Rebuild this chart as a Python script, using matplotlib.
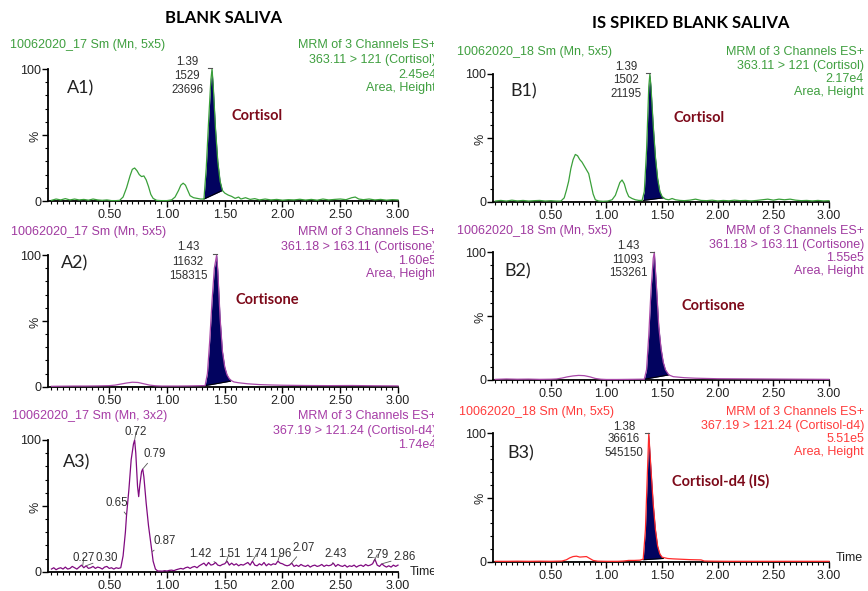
import numpy as np
import matplotlib
matplotlib.use("Agg")
import matplotlib.pyplot as plt
from matplotlib.ticker import MultipleLocator
from matplotlib.transforms import Bbox, TransformedBbox

# ------------------------------------------------------------------ data
XMAJ = [0.5, 1.0, 1.5, 2.0, 2.5, 3.0]
XLAB = ["0.50", "1.00", "1.50", "2.00", "2.50", "3.00"]
YMAJ = [0, 50, 100]
YLAB = ["0", "%", "100"]

# A1 : blank saliva, cortisol channel
A1_t = [0.00, 0.04, 0.08, 0.12, 0.16, 0.20, 0.24, 0.28, 0.32, 0.36, 0.40, 0.44, 0.48, 0.52, 0.56,
        0.59, 0.62, 0.65, 0.68, 0.70, 0.72, 0.74, 0.76, 0.78, 0.80, 0.82, 0.84, 0.86, 0.88, 0.91,
        0.95, 1.00, 1.04, 1.07, 1.10, 1.12, 1.14, 1.16, 1.18, 1.20, 1.23, 1.26, 1.29, 1.32, 1.34,
        1.36, 1.38, 1.39, 1.40, 1.42, 1.44, 1.46, 1.48, 1.50, 1.53, 1.56, 1.59, 1.62, 1.64, 1.68,
        1.72, 1.76, 1.80, 1.85, 1.90, 1.95, 2.00, 2.05, 2.10, 2.15, 2.20, 2.25, 2.30, 2.35, 2.40,
        2.45, 2.50, 2.55, 2.60, 2.63, 2.66, 2.70, 2.75, 2.80, 2.85, 2.90, 2.95, 3.00]
A1_i = [0.5, 1.5, 0.8, 1.8, 0.8, 1.5, 0.8, 1.2, 0.6, 1.5, 0.8, 0.5, 0.8, 0.3, 0.3,
        0.5, 3, 10, 19, 24, 25, 23, 20, 18.5, 19, 16, 11, 5, 2, 0.5,
        0.3, 0.3, 0.8, 3, 8, 12, 13.5, 12, 8, 4, 2.5, 2, 1.5, 1.5, 25,
        60, 92, 100, 88, 55, 30, 15, 8, 6, 4.5, 3.5, 2, 3, 1.5, 2.5,
        1.2, 1.8, 0.8, 1.5, 0.8, 1.2, 0.6, 1, 0.8, 1.3, 0.7, 1.2, 0.6, 1.5, 0.8,
        1.2, 1.5, 1, 2.5, 3, 1.5, 1, 1.5, 0.8, 1.2, 0.6, 1, 0.8]
A1_fill = [1.32, 1.5, 1.48, 8.0]          # start t, base, end t, base

# A2 : blank saliva, cortisone channel
A2_t = [0.00, 0.10, 0.20, 0.30, 0.40, 0.50, 0.55, 0.60, 0.65, 0.70, 0.75, 0.80, 0.85, 0.90, 0.95,
        1.00, 1.10, 1.20, 1.30, 1.33, 1.35, 1.37, 1.39, 1.41, 1.43, 1.44, 1.46, 1.48, 1.50, 1.52,
        1.54, 1.56, 1.58, 1.62, 1.66, 1.70, 1.80, 1.90, 2.00, 2.20, 2.40, 2.60, 2.80, 3.00]
A2_i = [0.3, 0.4, 0.5, 0.5, 0.6, 0.8, 1.2, 2.0, 2.8, 3.4, 3.2, 2.2, 1.2, 0.7, 0.5,
        0.5, 0.5, 0.6, 0.8, 0.8, 10, 35, 65, 90, 100, 88, 52, 27, 15, 9,
        6, 4.5, 3.6, 3, 2.6, 2.2, 1.6, 1.3, 1.1, 0.9, 0.8, 0.9, 0.7, 0.6]
A2_fill = [1.33, 0.8, 1.55, 4.2]

# A3 : blank saliva, cortisol-d4 channel (noisy)
A3_t_lead = np.round(np.arange(0.00, 0.561, 0.02), 2)
A3_i_lead = [2, 3, 1.5, 2.5, 3, 2, 3.5, 2, 2.5, 4, 3, 2, 3.5, 5, 3, 4.5, 2.5, 3, 4, 2.5,
             3.5, 3, 2, 3.5, 4, 2.5, 3, 2, 3]
A3_t_peak = [0.58, 0.60, 0.62, 0.64, 0.65, 0.67, 0.69, 0.71, 0.72, 0.73, 0.745, 0.755, 0.765,
             0.78, 0.79, 0.80, 0.82, 0.84, 0.86, 0.87, 0.88, 0.90, 0.92]
A3_i_peak = [2.5, 3, 12, 30, 43, 62, 85, 97, 100, 90, 65, 57, 66,
             76, 78, 72, 52, 35, 22, 15, 8, 2, 0.5]
A3_t_tail = np.round(np.arange(0.94, 3.001, 0.02), 2)
A3_i_tail = [0.5, 0.4, 0.8, 0.5, 1, 1.2, 0.8, 1.5, 2,
             2.5, 2, 3, 3.5, 2.5, 3.5, 4, 3, 4.5, 5.5,
             6.5, 4.5, 7, 5, 5.5, 7, 5, 4.5, 5.5, 6,
             8, 5, 6.5, 5, 6, 4.5, 5.5, 5, 6, 7,
             5, 8, 5, 4.5, 6, 5, 7, 4.5, 6, 5,
             6, 5.5, 8, 6.5, 6, 5, 4.5, 5, 6.5, 4,
             5, 4, 5.5, 4.5, 4, 5, 3.5, 4.5, 5, 4,
             4.5, 5.5, 4, 5, 4.5, 5, 6.5, 4, 5.5, 4.5,
             4, 5, 3.5, 4.5, 4, 5, 3.5, 4.5, 5, 4,
             5.5, 4.5, 5, 6, 9.5, 5, 4, 6, 4.5, 3.5,
             4.5, 3.5, 5, 4, 5]
A3_labels = ["0.72", "0.79", "0.65", "0.87", "0.27", "0.30", "1.42", "1.51",
             "1.74", "1.96", "2.07", "2.43", "2.79", "2.86"]
A3_label_t = [0.72, 0.79, 0.65, 0.87, 0.27, 0.30, 1.42, 1.51, 1.74, 1.96, 2.07, 2.43, 2.79, 2.86]

# B1 : IS spiked, cortisol channel
B1_t = [0.00, 0.05, 0.10, 0.15, 0.20, 0.25, 0.30, 0.35, 0.40, 0.45, 0.50, 0.55,
        0.59, 0.62, 0.64, 0.66, 0.68, 0.70, 0.72, 0.74, 0.76, 0.78, 0.80, 0.82, 0.84, 0.86, 0.88, 0.90,
        0.93, 0.97, 1.01, 1.05, 1.08, 1.10, 1.12, 1.14, 1.16, 1.18, 1.20,
        1.23, 1.26, 1.29, 1.32, 1.34, 1.36, 1.38, 1.39, 1.40, 1.42, 1.44, 1.46, 1.48, 1.50,
        1.53, 1.56, 1.59, 1.62, 1.66, 1.70,
        1.75, 1.80, 1.85, 1.90, 1.95, 2.00, 2.05, 2.10, 2.15, 2.20, 2.25, 2.30, 2.35,
        2.40, 2.45, 2.50, 2.55, 2.60, 2.65, 2.70, 2.75, 2.80, 2.85, 2.90, 2.95, 3.00]
B1_i = [0.5, 1, 0.5, 1.2, 0.6, 1, 0.5, 0.8, 1, 0.5, 0.8, 0.5,
        0.5, 3, 9, 16, 26, 33, 37, 36, 33, 31, 28, 25, 22, 14, 6, 1.5,
        0.5, 0.3, 0.5, 1.5, 5, 10, 15, 17, 14, 8, 4,
        2.5, 1.5, 1, 1, 8, 40, 90, 100, 90, 60, 35, 18, 8, 4,
        2, 1.5, 2.5, 1.5, 1, 0.8,
        1.2, 2, 1, 0.8, 1.2, 0.6, 1, 0.7, 1.2, 0.8, 1, 0.6, 1,
        1.5, 2, 1.2, 2, 1.5, 2, 1.2, 0.8, 1, 0.6, 1, 0.6, 0.8]
B1_fill = [1.33, 1.0, 1.51, 3.0]

# B2 : IS spiked, cortisone channel
B2_t = [0.00, 0.10, 0.20, 0.30, 0.40, 0.50, 0.55, 0.60, 0.65, 0.70, 0.75, 0.80, 0.85, 0.90, 0.95,
        1.00, 1.10, 1.20, 1.30, 1.34, 1.36, 1.38, 1.40, 1.42, 1.43, 1.45, 1.47, 1.49, 1.51, 1.53,
        1.56, 1.60, 1.65, 1.70, 1.80, 1.90, 2.00, 2.20, 2.40, 2.60, 2.80, 3.00]
B2_i = [0.5, 0.8, 0.6, 0.7, 0.5, 0.6, 0.8, 1.5, 2.5, 3.2, 3.6, 3.4, 2.5, 1.2, 0.6,
        0.4, 0.4, 0.5, 0.6, 0.6, 8, 35, 70, 95, 100, 72, 42, 25, 14, 8,
        4, 2.6, 2.2, 1.8, 1.4, 1.2, 1, 0.9, 0.8, 0.7, 0.6, 0.5]
B2_fill = [1.34, 0.6, 1.56, 4.0]

# B3 : IS spiked, cortisol-d4 channel
B3_t = [0.00, 0.10, 0.20, 0.30, 0.40, 0.50, 0.60, 0.64, 0.67, 0.70, 0.73, 0.76, 0.79, 0.82, 0.85,
        0.88, 0.92, 1.00, 1.10, 1.15, 1.20, 1.25, 1.30, 1.33, 1.35, 1.37, 1.38, 1.40, 1.42, 1.44,
        1.46, 1.48, 1.50, 1.55, 1.60, 1.65, 1.70, 1.75, 1.80, 1.85, 1.88, 1.95, 2.10, 2.30, 2.50,
        2.70, 2.90, 3.00]
B3_i = [0.3, 0.3, 0.4, 0.3, 0.4, 0.3, 0.5, 1.5, 3, 4, 4.3, 3.6, 3.8, 4, 2.5,
        1, 0.4, 0.3, 0.3, 0.5, 1, 1, 1.2, 2, 25, 75, 100, 72, 45, 25,
        12, 6, 3.5, 2.5, 2.2, 2, 1.8, 1.6, 1.5, 1.4, 0.5, 0.4, 0.3, 0.3, 0.3,
        0.3, 0.3, 0.3]
B3_fill = [1.33, 1.5, 1.51, 2.5]

# ------------------------------------------------------------------ style
W, H = 868, 591
plt.rcParams['font.family'] = ['Liberation Sans', 'DejaVu Sans']
CAL = ['Lato', 'DejaVu Sans']

GREEN_T, GREEN_L = '#3f9f3f', '#3aa03a'
PURP_T, PURP_L = '#a03aa0', '#a848a8'
PURP3_T, PURP3_L = '#a63ca6', '#800a80'
RED_T, RED_L = '#ff3b3b', '#ff2a2a'
NAVY = '#02035f'
MAROON = '#7d0a1a'
DARK = '#303030'

fig = plt.figure(figsize=(W / 100, H / 100), dpi=100)
fig.patch.set_facecolor('white')
LEFT_CLIP = TransformedBbox(Bbox.from_extents(0, 0, 434 / W, 1), fig.transFigure)


def ftext(x, y, s, clip=False, **kw):
    kw.setdefault('va', 'center')
    t = fig.text(x / W, 1 - y / H, s, **kw)
    if clip:
        t.set_clip_on(True)
        t.set_clip_box(LEFT_CLIP)
    return t


def make_axes(x0, x1, ytop, ybot, xmin):
    ax = fig.add_axes([x0 / W, 1 - ybot / H, (x1 - x0) / W, (ybot - ytop) / H])
    ax.set_xlim(xmin, 3.0)
    ax.set_ylim(0, 100)
    ax.patch.set_visible(False)
    for s in ('top', 'right'):
        ax.spines[s].set_visible(False)
    for s in ('left', 'bottom'):
        ax.spines[s].set_linewidth(1.3)
        ax.spines[s].set_color('black')
    ax.set_xticks(XMAJ)
    ax.set_xticklabels(XLAB)
    ax.xaxis.set_minor_locator(MultipleLocator(0.05))
    ax.set_yticks(YMAJ)
    ax.set_yticklabels(YLAB)
    ax.get_yticklabels()[1].set_rotation(90)
    ax.yaxis.set_minor_locator(MultipleLocator(10))
    ax.tick_params(axis='both', which='major', length=4, width=1.0, labelsize=9,
                   color='black', labelcolor='#222222')
    ax.tick_params(axis='both', which='minor', length=2.3, width=0.8, color='black')
    ax.tick_params(axis='x', which='major', pad=2)
    ax.tick_params(axis='y', which='major', pad=1)
    return ax


def draw_trace(ax, t, i, color, lw=0.9):
    ax.plot(t, i, color=color, lw=lw, clip_on=False, zorder=3, solid_joinstyle='round')


def draw_fill(ax, t, i, fill):
    s, b0, e, b1 = fill
    t = np.asarray(t, float)
    i = np.asarray(i, float)
    m = (t > s) & (t < e)
    tt = np.concatenate([[s], t[m], [e]])
    ii = np.interp(tt, t, i)
    bb = np.interp(tt, [s, e], [b0, b1])
    ax.fill_between(tt, bb, ii, color=NAVY, lw=0, zorder=2.6)
    ax.plot([s, e], [b0, b1], color='black', lw=0.7, zorder=2.7)


def peak_mark(ax, tp):
    ax.plot([tp - 0.035, tp], [100.5, 100.5], color='#555555', lw=0.8, clip_on=False, zorder=4)


# ------------------------------------------------------------------ axes
LX0, LX1, LXMIN = 48, 398, -0.03
RX0, RX1, RXMIN = 493, 829, -0.02

axA1 = make_axes(LX0, LX1, 69, 201, LXMIN)
axA2 = make_axes(LX0, LX1, 255, 386.7, LXMIN)
axA3 = make_axes(LX0, LX1, 440, 571.7, LXMIN)
axB1 = make_axes(RX0, RX1, 74, 201.7, RXMIN)
axB2 = make_axes(RX0, RX1, 252.3, 380, RXMIN)
axB3 = make_axes(RX0, RX1, 433.3, 561.7, RXMIN)

# traces + integrated peaks
draw_fill(axA1, A1_t, A1_i, A1_fill)
draw_trace(axA1, A1_t, A1_i, GREEN_L)
peak_mark(axA1, 1.39)

draw_fill(axA2, A2_t, A2_i, A2_fill)
draw_trace(axA2, A2_t, A2_i, PURP_L)
peak_mark(axA2, 1.43)

A3_t = np.concatenate([A3_t_lead, A3_t_peak, A3_t_tail])
A3_i = np.concatenate([A3_i_lead, A3_i_peak, A3_i_tail])
draw_trace(axA3, A3_t, A3_i, PURP3_L, lw=0.9)

draw_fill(axB1, B1_t, B1_i, B1_fill)
draw_trace(axB1, B1_t, B1_i, GREEN_L)
peak_mark(axB1, 1.39)

draw_fill(axB2, B2_t, B2_i, B2_fill)
draw_trace(axB2, B2_t, B2_i, PURP_L)
peak_mark(axB2, 1.43)

draw_fill(axB3, B3_t, B3_i, B3_fill)
draw_trace(axB3, B3_t, B3_i, RED_L)
peak_mark(axB3, 1.38)

# A3 apex labels (label positions in data units, offsets from apex)
A3_label_pos = [(0.732, 106), (0.896, 89), (0.57, 52), (0.983, 23), (0.279, 10.5), (0.481, 10.5),
                (1.286, 13.5), (1.537, 13.5), (1.777, 13.5), (1.979, 13.5), (2.186, 18),
                (2.463, 13.5), (2.821, 13), (3.061, 11)]
for lab, tl, (tx, ty) in zip(A3_labels, A3_label_t, A3_label_pos):
    yi = float(np.interp(tl, A3_t, A3_i))
    axA3.annotate(lab, xy=(tl, yi), xytext=(tx, ty), textcoords='data',
                  ha='center', va='center', fontsize=8.3, color=DARK,
                  annotation_clip=False,
                  arrowprops=dict(arrowstyle='-', color='#555555', lw=0.6,
                                  shrinkA=0, shrinkB=0.5))

# ------------------------------------------------------------------ texts
HS = 9.0
# titles
ftext(223, 18, "BLANK SALIVA", ha='center', fontsize=12, fontweight='bold', family=CAL, color='black')
ftext(691, 23, "IS SPIKED BLANK SALIVA", ha='center', fontsize=12, fontweight='bold', family=CAL, color='black')

# A1 header
ftext(10, 45, "10062020_17 Sm (Mn, 5x5)", ha='left', fontsize=HS, color=GREEN_T)
for y, s in zip([45, 60, 74.5, 88.5], ["MRM of 3 Channels ES+", "363.11 > 121 (Cortisol)", "2.45e4", "Area, Height"]):
    ftext(436, y, s, clip=True, ha='right', fontsize=HS, color=GREEN_T)
# A2 header
ftext(11, 232, "10062020_17 Sm (Mn, 5x5)", ha='left', fontsize=HS, color=PURP_T)
for y, s in zip([232, 246.7, 261, 274.5], ["MRM of 3 Channels ES+", "361.18 > 163.11 (Cortisone)", "1.60e5", "Area, Height"]):
    ftext(436, y, s, clip=True, ha='right', fontsize=HS, color=PURP_T)
# A3 header
ftext(12, 416, "10062020_17 Sm (Mn, 3x2)", ha='left', fontsize=HS, color=PURP3_T)
for y, s in zip([416, 430.7, 445], ["MRM of 3 Channels ES+", "367.19 > 121.24 (Cortisol-d4)", "1.74e4"]):
    ftext(436, y, s, clip=True, ha='right', fontsize=HS, color=PURP3_T)

# B headers
ftext(457, 52, "10062020_18 Sm (Mn, 5x5)", ha='left', fontsize=HS, color=GREEN_T)
for y, s in zip([52, 65.5, 79, 92.5], ["MRM of 3 Channels ES+", "363.11 > 121 (Cortisol)", "2.17e4", "Area, Height"]):
    ftext(864, y, s, ha='right', fontsize=HS, color=GREEN_T)
ftext(457, 231, "10062020_18 Sm (Mn, 5x5)", ha='left', fontsize=HS, color=PURP_T)
for y, s in zip([231, 244.5, 258, 271], ["MRM of 3 Channels ES+", "361.18 > 163.11 (Cortisone)", "1.55e5", "Area, Height"]):
    ftext(864, y, s, ha='right', fontsize=HS, color=PURP_T)
ftext(459, 412, "10062020_18 Sm (Mn, 5x5)", ha='left', fontsize=HS, color=RED_T)
for y, s in zip([412, 425.7, 439, 452.5], ["MRM of 3 Channels ES+", "367.19 > 121.24 (Cortisol-d4)", "5.51e5", "Area, Height"]):
    ftext(864, y, s, ha='right', fontsize=HS, color=RED_T)

# panel tags
for x, y, s in [(81, 88, "A1)"), (75, 263, "A2)"), (77, 462, "A3)"),
                (524, 91, "B1)"), (518, 271, "B2)"), (521, 453, "B3)")]:
    ftext(x, y, s, ha='center', fontsize=13, family=CAL, color='#222222')

# peak info (RT / area / height)
for x, ys, vals in [(187, (62, 76, 90), ("1.39", "1529", "23696")),
                    (188, (247.3, 261.7, 276), ("1.43", "11632", "158315")),
                    (626, (66.7, 80, 94.3), ("1.39", "1502", "21195")),
                    (628, (245.7, 260, 272.5), ("1.43", "11093", "153261")),
                    (624, (426.7, 439.5, 453.3), ("1.38", "36616", "545150"))]:
    for y, v in zip(ys, vals):
        ftext(x, y, v, ha='center', fontsize=8.3, color=DARK)

# compound names
for x, y, s in [(257, 116, "Cortisol"), (267.5, 300, "Cortisone"), (699, 118.3, "Cortisol"),
                (713, 306, "Cortisone"), (720.7, 481.7, "Cortisol-d4 (IS)")]:
    ftext(x, y, s, ha='center', fontsize=10.5, fontweight='bold', family=CAL, color=MAROON)

# Time axis titles
ftext(410, 572, "Time", clip=True, ha='left', fontsize=HS, color='#222222')
ftext(836, 558, "Time", ha='left', fontsize=HS, color='#222222')

fig.savefig("out.png", dpi=100, facecolor='white')
